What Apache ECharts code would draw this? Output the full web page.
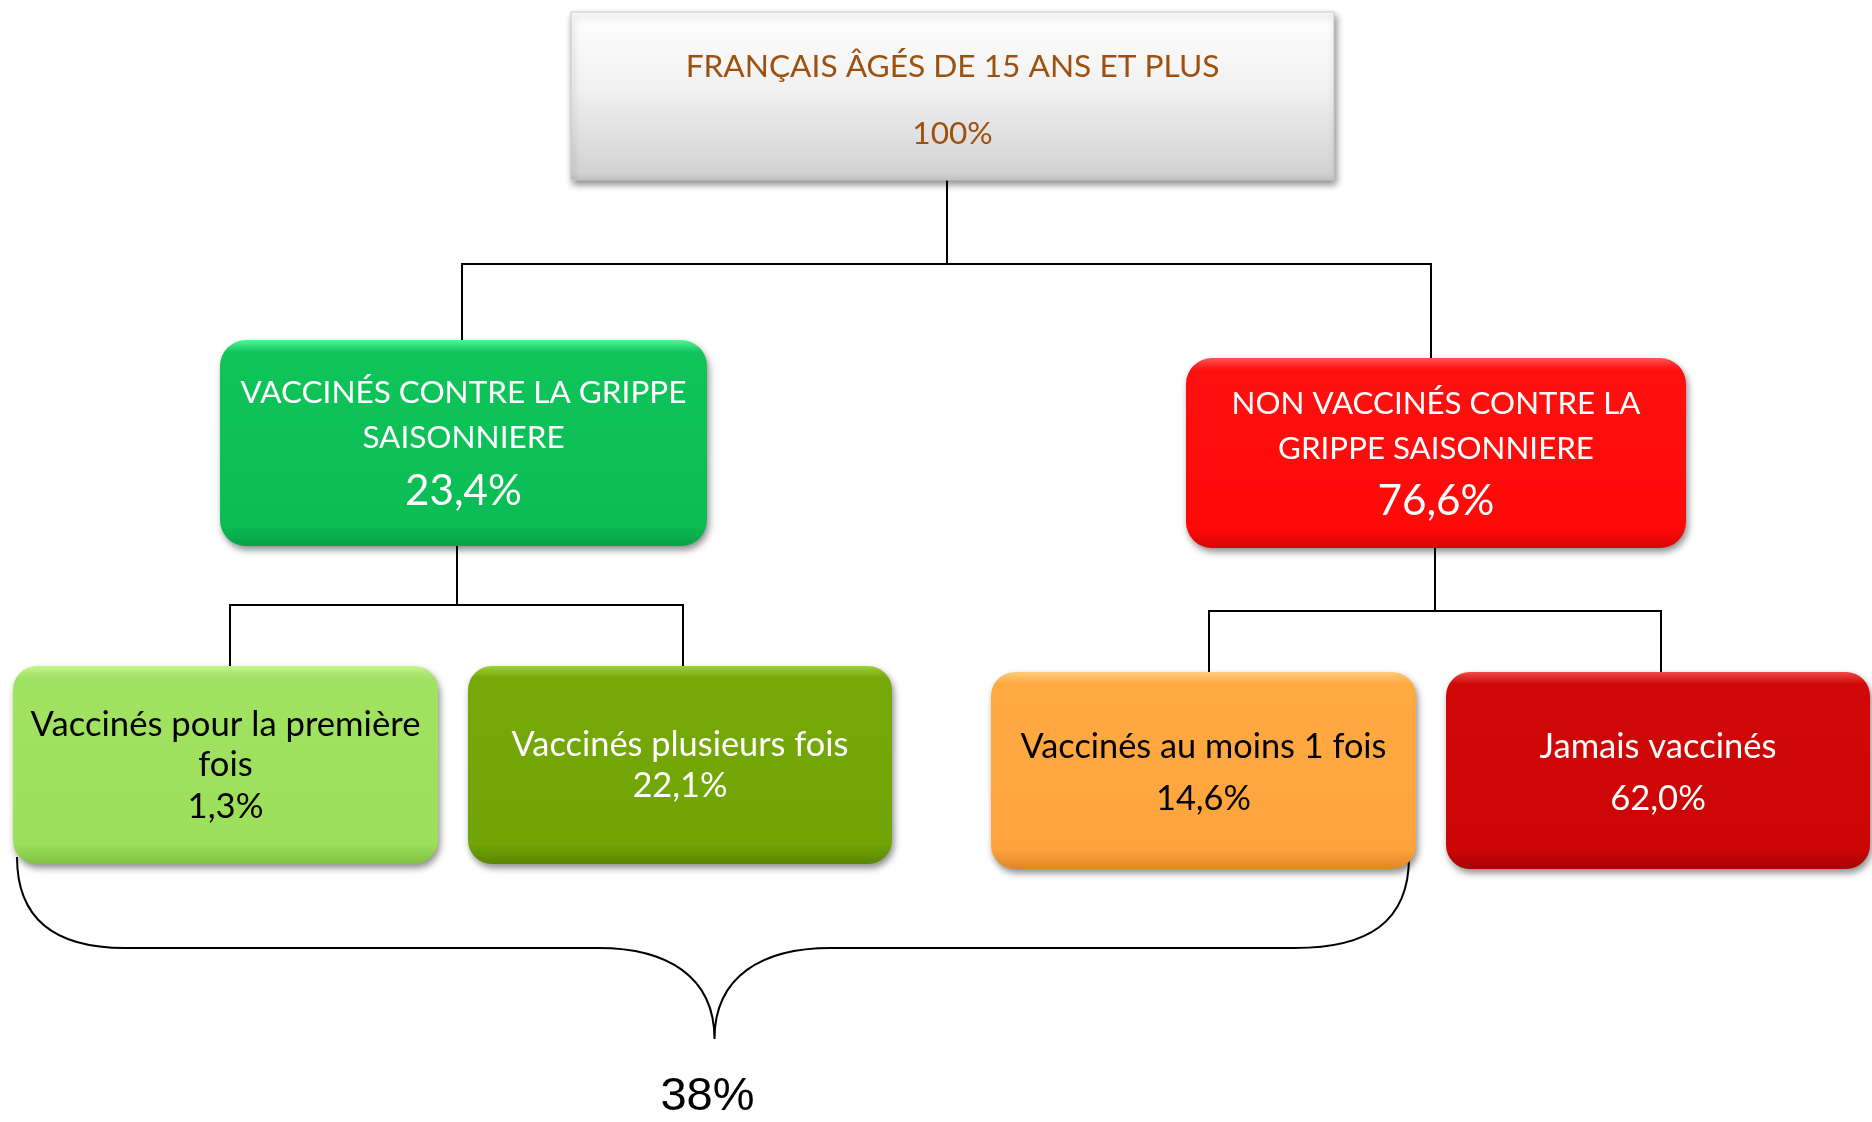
<!DOCTYPE html>
<html><head><meta charset="utf-8">
<script src="https://cdn.jsdelivr.net/npm/echarts@6/dist/echarts.min.js"></script>
<style>html,body{margin:0;padding:0;background:#fff}#chart{width:1872px;height:1122px}</style>
</head><body><div id="chart"></div>
<script>
// ---------- DATA ----------
const nodeNames = [
  'FRANÇAIS ÂGÉS DE 15 ANS ET PLUS',
  'VACCINÉS CONTRE LA GRIPPE\nSAISONNIERE',
  'NON VACCINÉS CONTRE LA\nGRIPPE SAISONNIERE',
  'Vaccinés pour la première\nfois',
  'Vaccinés plusieurs fois',
  'Vaccinés au moins 1 fois',
  'Jamais vaccinés'
];
const nodeValues = [100, 23.4, 76.6, 1.3, 22.1, 14.6, 62.0];
const nodeDecimals = [0, 1, 1, 1, 1, 1, 1];
const nodeParents = [-1, 0, 0, 1, 1, 2, 2];
const braceMembers = [3, 4, 5];
const braceValue = 38;
const braceDecimals = 0;

// ---------- LAYOUT / STYLE ----------
const W = 1872, H = 1122;
const layout = [
  {x0:571,y0:12,x1:1334,y1:180,r:0, lineY:[67], valY:134, nameW:534, color:'#9E500E',
   stops:[[0,'#FFFFFF'],[0.45,'#F1F1F1'],[0.95,'#D3D3D3'],[1,'#C4C4C4']], drop:947, busY:264},
  {x0:220,y0:340,x1:707,y1:546,r:26, lineY:[393,438], valY:491, nameW:446, valW:117, color:'#FFFFFF',
   stops:[[0,'#4FF59A'],[0.06,'#10C45C'],[0.9,'#0ABC54'],[1,'#07A347']], drop:457, busY:605, rise:462},
  {x0:1186,y0:358,x1:1686,y1:548,r:26, lineY:[404,449], valY:501, nameW:409, valW:117, color:'#FFFFFF',
   stops:[[0,'#FF5555'],[0.06,'#FF1010'],[0.9,'#FF0808'],[1,'#D80606']], drop:1435, busY:611, rise:1431},
  {x0:13,y0:666,x1:438,y1:864,r:24, lineY:[725,765], valY:807, nameW:390, color:'#000000',
   stops:[[0,'#C2F58C'],[0.06,'#A2E262'],[0.9,'#9CDF5A'],[1,'#82C243']], rise:230},
  {x0:468,y0:666,x1:892,y1:864,r:24, lineY:[745], valY:786, nameW:337, color:'#FFFFFF',
   stops:[[0,'#9AD236'],[0.06,'#76A80A'],[0.9,'#71A405'],[1,'#5A8603']], rise:683},
  {x0:991,y0:672,x1:1416,y1:869,r:24, lineY:[747], valY:799, nameW:366, color:'#000000',
   stops:[[0,'#FFCB7A'],[0.06,'#FFA942'],[0.9,'#FFA43C'],[1,'#DD872A']], rise:1209},
  {x0:1446,y0:672,x1:1870,y1:869,r:24, lineY:[747], valY:799, nameW:237, color:'#FFFFFF',
   stops:[[0,'#F04848'],[0.06,'#D00808'],[0.9,'#CC0505'],[1,'#A80303']], rise:1661}
];
const braceGeom = {top:857, mid:948, tip:1039, inL:4, inR:7, textY:1097, textDX:-7, textW:94};

const FONT = 'Lato';
const ctx = document.createElement('canvas').getContext('2d');
function fitSize(text, family, target) {
  ctx.font = '100px ' + family;
  return 100 * target / ctx.measureText(text).width;
}
function fmt(v, d) { return v.toFixed(d).replace('.', ',') + '%'; }

layout.forEach((L, i) => {
  const lines = nodeNames[i].split('\n');
  const widest = lines.reduce((a, b) => (a.length >= b.length ? a : b));
  L.nameSize = fitSize(widest, FONT, L.nameW);
  L.valSize = L.valW ? fitSize(fmt(nodeValues[i], nodeDecimals[i]), FONT, L.valW) : L.nameSize;
  L.cx = (L.x0 + L.x1) / 2;
});

function renderLink(params, api) {
  const i = api.value(0);
  const c = layout[i], p = layout[nodeParents[i]];
  const pts = [
    api.coord([p.drop, p.y1]), api.coord([p.drop, p.busY]),
    api.coord([c.rise, p.busY]), api.coord([c.rise, c.y0])
  ];
  return {type:'polyline', shape:{points:pts}, style:{stroke:'#000', lineWidth:2, fill:'none'}};
}

function renderNode(params, api) {
  const i = api.value(0);
  const L = layout[i];
  const p0 = api.coord([L.x0, L.y0]), p1 = api.coord([L.x1, L.y1]);
  const children = [{
    type:'rect',
    shape:{x:p0[0], y:p0[1], width:p1[0]-p0[0], height:p1[1]-p0[1], r:L.r},
    style:{
      fill:{type:'linear', x:0, y:0, x2:0, y2:1, colorStops:L.stops.map(s => ({offset:s[0], color:s[1]}))},
      shadowBlur:7, shadowOffsetX:2, shadowOffsetY:4, shadowColor:'rgba(0,0,0,0.45)',
      stroke: i === 0 ? '#C8C8C8' : null, lineWidth:1
    }
  }];
  nodeNames[i].split('\n').forEach((t, k) => {
    const c = api.coord([L.cx, L.lineY[k]]);
    children.push({type:'text', style:{text:t, x:c[0], y:c[1], fill:L.color,
      font: L.nameSize.toFixed(2) + 'px ' + FONT, align:'center', verticalAlign:'middle'}});
  });
  const cv = api.coord([L.cx, L.valY]);
  children.push({type:'text', style:{text:fmt(nodeValues[i], nodeDecimals[i]), x:cv[0], y:cv[1], fill:L.color,
    font: L.valSize.toFixed(2) + 'px ' + FONT, align:'center', verticalAlign:'middle'}});
  return {type:'group', children};
}

function renderBrace(params, api) {
  const v = api.value(0);
  const first = layout[braceMembers[0]], last = layout[braceMembers[braceMembers.length - 1]];
  const G = braceGeom;
  const Lx = first.x0 + G.inL, Rx = last.x1 - G.inR, Mx = (first.x0 + last.x1) / 2;
  const P = (x, y) => api.coord([x, y]).map(n => n.toFixed(1)).join(',');
  const d = [
    'M', P(Lx, G.top),
    'C', P(Lx, G.top + 66), P(Lx + 42, G.mid), P(Lx + 108, G.mid),
    'L', P(Mx - 116, G.mid),
    'C', P(Mx - 48, G.mid), P(Mx, G.mid + 28), P(Mx, G.tip),
    'C', P(Mx, G.mid + 28), P(Mx + 48, G.mid), P(Mx + 116, G.mid),
    'L', P(Rx - 114, G.mid),
    'C', P(Rx - 42, G.mid), P(Rx, G.top + 66), P(Rx, G.top)
  ].join(' ');
  const label = fmt(v, braceDecimals);
  const size = fitSize(label, '"Liberation Sans"', G.textW);
  const tc = api.coord([Mx + G.textDX, G.textY]);
  return {type:'group', children:[
    {type:'path', shape:{pathData:d}, style:{stroke:'#000', lineWidth:2, fill:'none'}},
    {type:'text', style:{text:label, x:tc[0], y:tc[1], fill:'#000',
      font: size.toFixed(2) + 'px "Liberation Sans"', align:'center', verticalAlign:'middle'}}
  ]};
}

const chart = echarts.init(document.getElementById('chart'));
const ids = nodeNames.map((_, i) => i);
chart.setOption({
  animation:false,
  backgroundColor:'#ffffff',
  grid:{left:0, right:0, top:0, bottom:0},
  xAxis:{type:'value', min:0, max:W, show:false},
  yAxis:{type:'value', min:0, max:H, inverse:true, show:false},
  series:[
    {type:'custom', z:1, silent:true, data: ids.filter(i => nodeParents[i] >= 0).map(i => [i]), renderItem: renderLink},
    {type:'custom', z:1, silent:true, data: [[braceValue]], renderItem: renderBrace},
    {type:'custom', z:2, silent:true, data: ids.map(i => [i]), renderItem: renderNode}
  ]
});
</script>
</body></html>
